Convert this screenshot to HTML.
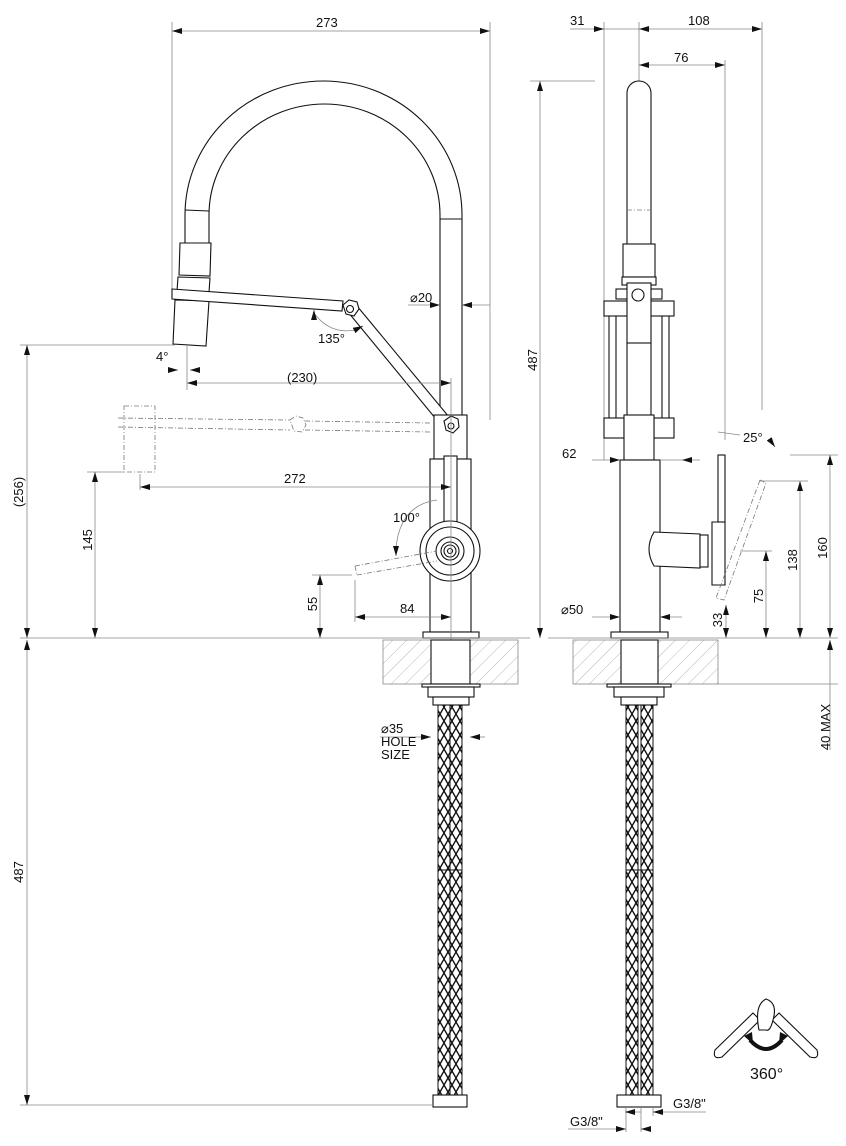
<!DOCTYPE html>
<html><head><meta charset="utf-8"><style>
html,body{margin:0;padding:0;background:#fff}
svg{display:block}
text{font-family:"Liberation Sans",sans-serif;font-size:13px;fill:#111}
.d{stroke:#888;stroke-width:0.8;fill:none}
.k{stroke:#111;stroke-width:1.1;fill:#fff}
.kn{stroke:#111;stroke-width:1.1;fill:none}
.g{stroke:#777;stroke-width:0.8;fill:none;stroke-dasharray:5 2 1 2}
</style></head><body>
<svg width="846" height="1146" viewBox="0 0 846 1146" xmlns="http://www.w3.org/2000/svg">
<defs>
<marker id="a" viewBox="0 0 10 6" refX="10" refY="3" markerWidth="10" markerHeight="6" orient="auto-start-reverse" markerUnits="userSpaceOnUse"><path d="M0,0L10,3L0,6z" fill="#111"/></marker>
<pattern id="h" width="10" height="10" patternUnits="userSpaceOnUse" patternTransform="rotate(45)"><line x1="0" y1="0" x2="0" y2="10" stroke="#999" stroke-width="0.7"/></pattern>
<pattern id="br" width="8" height="14" patternUnits="userSpaceOnUse"><path d="M0,0L8,14M8,0L0,14" stroke="#111" stroke-width="1.4"/></pattern>
</defs>

<!-- ============ LEFT VIEW ============ -->
<line class="d" x1="172" y1="22" x2="172" y2="290"/><line class="d" x1="490" y1="22" x2="490" y2="420"/>
<line class="d" x1="172" y1="31" x2="490" y2="31" marker-start="url(#a)" marker-end="url(#a)"/>
<text x="316" y="27">273</text>
<path class="kn" d="M185,245 L185,215 A138.5,134 0 0 1 462,215 L462,415"/>
<path class="kn" d="M209,245 L209,215 A115.5,111 0 0 1 440,215 L440,415"/>
<line class="kn" x1="185" y1="210" x2="209" y2="211"/><line class="kn" x1="440" y1="219" x2="462" y2="219"/>
<path class="k" d="M180,243 L211,243 L210,276 L179,275 Z"/>
<path class="k" d="M178,277 L210,278 L209,292 L177,291 Z"/>
<path class="k" d="M175,300 L209,301 L206,346 L173,344 Z"/>
<path class="k" d="M172,289 L343,301 L342,311 L172,299 Z"/>
<path class="k" d="M348,312 L357,306 L454,423 L445,430 Z"/>
<polygon class="k" points="343,305 349,300 357,302 359,309 354,316 346,314"/>
<circle class="kn" cx="350" cy="309" r="3.5"/>
<rect class="g" x="124" y="406" width="31" height="66"/>
<path class="g" d="M118,418 L290,420 M118,427 L290,430 M305,421 L430,423 M305,430 L430,432"/>
<polygon class="g" points="290,420 296,416 303,418 306,425 302,432 294,431"/>
<rect class="k" x="434" y="415" width="33" height="44"/>
<rect class="k" x="430" y="459" width="41" height="173"/>
<polygon class="k" points="444,421 451,416 458,419 459,427 453,433 446,430"/>
<circle class="kn" cx="451" cy="426" r="3"/>
<rect class="k" x="444" y="456" width="13" height="92"/>
<circle class="k" cx="450" cy="551" r="30"/><circle class="kn" cx="450" cy="551" r="24"/>
<circle class="kn" cx="450" cy="551" r="14"/><circle class="kn" cx="450" cy="551" r="9"/><circle class="kn" cx="450" cy="551" r="6"/><circle class="kn" cx="450" cy="551" r="2.5"/>
<path class="g" d="M355,566 L437,551 M357,575 L437,561 M355,566 L357,575"/>
<rect class="k" x="423" y="632" width="56" height="6"/>
<line class="d" x1="20" y1="638" x2="530" y2="638"/>
<line class="d" x1="20" y1="345" x2="175" y2="345"/>
<line class="d" x1="27" y1="345" x2="27" y2="638" marker-start="url(#a)" marker-end="url(#a)"/>
<text transform="translate(23,492) rotate(-90)" text-anchor="middle">(256)</text>
<line class="d" x1="87" y1="472" x2="124" y2="472"/>
<line class="d" x1="95" y1="472" x2="95" y2="638" marker-start="url(#a)" marker-end="url(#a)"/>
<text transform="translate(92,540) rotate(-90)" text-anchor="middle">145</text>
<line class="d" x1="140" y1="474" x2="140" y2="490"/>
<line class="d" x1="140" y1="487" x2="451" y2="487" marker-start="url(#a)" marker-end="url(#a)"/>
<text x="284" y="483">272</text>
<line class="d" x1="187" y1="346" x2="187" y2="390"/>
<line class="d" x1="187" y1="383" x2="451" y2="383" marker-start="url(#a)" marker-end="url(#a)"/>
<line class="d" x1="451" y1="378" x2="451" y2="640"/>
<text x="287" y="382">(230)</text>
<line class="d" x1="170" y1="370" x2="178" y2="370" marker-end="url(#a)"/>
<line class="d" x1="200" y1="370" x2="190" y2="370" marker-end="url(#a)"/>
<text x="156" y="361">4°</text>
<path class="d" d="M313,312 Q330,335 355,330"/>
<line class="d" x1="314" y1="318" x2="314" y2="310" marker-end="url(#a)"/>
<line class="d" x1="355" y1="330" x2="363" y2="326" marker-end="url(#a)"/>
<text x="318" y="343">135°</text>
<line class="d" x1="408" y1="305" x2="440" y2="305" marker-end="url(#a)"/>
<line class="d" x1="490" y1="305" x2="462" y2="305" marker-end="url(#a)"/>
<text x="410" y="302">⌀20</text>
<path class="d" d="M396,548 Q400,505 437,500"/>
<line class="d" x1="396" y1="548" x2="396" y2="556" marker-end="url(#a)"/>
<text x="393" y="522">100°</text>
<line class="d" x1="312" y1="575" x2="352" y2="575"/>
<line class="d" x1="320" y1="575" x2="320" y2="638" marker-start="url(#a)" marker-end="url(#a)"/>
<text transform="translate(317,604) rotate(-90)" text-anchor="middle">55</text>
<line class="d" x1="355" y1="580" x2="355" y2="622"/>
<line class="d" x1="355" y1="617" x2="451" y2="617" marker-start="url(#a)" marker-end="url(#a)"/>
<text x="400" y="613">84</text>
<rect x="383" y="640" width="135" height="44" fill="url(#h)" stroke="#888" stroke-width="0.8"/>
<rect class="k" x="431" y="640" width="39" height="44"/>
<rect class="k" x="422" y="684" width="58" height="3"/>
<rect class="k" x="428" y="687" width="46" height="10"/>
<rect class="k" x="433" y="697" width="36" height="8"/>
<rect x="438" y="705" width="12" height="390" fill="url(#br)" stroke="#111"/>
<rect x="450" y="705" width="12" height="390" fill="url(#br)" stroke="#111"/>
<line class="kn" x1="438" y1="870" x2="462" y2="870"/>
<rect class="k" x="433" y="1095" width="34" height="12"/>
<line class="d" x1="380" y1="737" x2="431" y2="737" marker-end="url(#a)"/>
<line class="d" x1="485" y1="737" x2="470" y2="737" marker-end="url(#a)"/>
<text x="381" y="733">⌀35</text><text x="381" y="746">HOLE</text><text x="381" y="759">SIZE</text>
<line class="d" x1="20" y1="1105" x2="433" y2="1105"/>
<line class="d" x1="27" y1="640" x2="27" y2="1105" marker-start="url(#a)" marker-end="url(#a)"/>
<text transform="translate(23,872) rotate(-90)" text-anchor="middle">487</text>

<!-- ============ RIGHT VIEW ============ -->
<line class="d" x1="604" y1="22" x2="604" y2="460"/><line class="d" x1="639" y1="22" x2="639" y2="81"/>
<line class="d" x1="725" y1="60" x2="725" y2="440"/><line class="d" x1="762" y1="22" x2="762" y2="410"/>
<line class="d" x1="570" y1="29" x2="604" y2="29" marker-end="url(#a)"/>
<line class="d" x1="604" y1="29" x2="639" y2="29"/>
<line class="d" x1="639" y1="29" x2="762" y2="29" marker-start="url(#a)" marker-end="url(#a)"/>
<text x="570" y="25">31</text><text x="688" y="25">108</text>
<line class="d" x1="639" y1="65" x2="725" y2="65" marker-start="url(#a)" marker-end="url(#a)"/>
<text x="674" y="62">76</text>
<line class="d" x1="530" y1="81" x2="595" y2="81"/>
<line class="d" x1="540" y1="81" x2="540" y2="638" marker-start="url(#a)" marker-end="url(#a)"/>
<text transform="translate(537,360) rotate(-90)" text-anchor="middle">487</text>
<path class="kn" d="M627,244 L627,93 A12,12 0 0 1 651,93 L651,244"/>
<line class="g" x1="627" y1="210" x2="651" y2="210"/>
<rect class="k" x="623" y="244" width="32" height="33"/>
<rect class="k" x="622" y="277" width="34" height="8"/>
<rect class="k" x="616" y="289" width="46" height="10"/>
<rect class="k" x="604" y="301" width="70" height="15"/>
<rect class="k" x="627" y="283" width="24" height="60"/>
<circle class="k" cx="638" cy="295" r="6"/>
<path class="kn" d="M609,316 V418 M616,316 V418 M662,316 V418 M669,316 V418 M627,343 V417 M651,343 V417"/>
<rect class="k" x="604" y="418" width="20" height="20"/><rect class="k" x="654" y="418" width="20" height="20"/>
<rect class="k" x="624" y="415" width="30" height="45"/>
<rect class="k" x="620" y="460" width="40" height="172"/>
<path class="k" d="M654,532 L700,534 L700,568 L654,566 Q644,549 654,532 Z"/>
<rect class="k" x="700" y="535" width="8" height="32"/>
<path class="k" d="M712,522 L725,522 L725,585 L712,585 Z"/>
<rect class="k" x="718" y="455" width="7" height="67"/>
<path class="g" d="M760,480 L766,483 L724,600 L716,598 Z"/>
<rect class="k" x="611" y="632" width="57" height="6"/>
<line class="d" x1="592" y1="460" x2="620" y2="460" marker-end="url(#a)"/>
<line class="d" x1="700" y1="460" x2="682" y2="460" marker-end="url(#a)"/>
<line class="d" x1="660" y1="460" x2="682" y2="460"/>
<text x="562" y="458">62</text>
<line class="d" x1="592" y1="617" x2="620" y2="617" marker-end="url(#a)"/>
<line class="d" x1="682" y1="617" x2="660" y2="617" marker-end="url(#a)"/>
<text x="561" y="614">⌀50</text>
<line class="d" x1="718" y1="432" x2="740" y2="435"/>
<text x="743" y="442">25°</text>
<line class="d" x1="770" y1="440" x2="775" y2="447" marker-end="url(#a)"/>
<line class="d" x1="790" y1="455" x2="838" y2="455"/>
<line class="d" x1="830" y1="455" x2="830" y2="638" marker-start="url(#a)" marker-end="url(#a)"/>
<text transform="translate(827,548) rotate(-90)" text-anchor="middle">160</text>
<line class="d" x1="760" y1="481" x2="808" y2="481"/>
<line class="d" x1="800" y1="481" x2="800" y2="638" marker-start="url(#a)" marker-end="url(#a)"/>
<text transform="translate(797,560) rotate(-90)" text-anchor="middle">138</text>
<line class="d" x1="740" y1="551" x2="772" y2="551"/>
<line class="d" x1="766" y1="551" x2="766" y2="638" marker-start="url(#a)" marker-end="url(#a)"/>
<text transform="translate(763,596) rotate(-90)" text-anchor="middle">75</text>
<line class="d" x1="726" y1="605" x2="726" y2="638" marker-start="url(#a)" marker-end="url(#a)"/>
<text transform="translate(722,620) rotate(-90)" text-anchor="middle">33</text>
<line class="d" x1="548" y1="638" x2="838" y2="638"/>
<rect x="573" y="640" width="145" height="44" fill="url(#h)" stroke="#888" stroke-width="0.8"/>
<rect class="k" x="621" y="640" width="37" height="44"/>
<rect class="k" x="607" y="684" width="64" height="3"/>
<rect class="k" x="614" y="687" width="50" height="10"/>
<rect class="k" x="621" y="697" width="36" height="8"/>
<rect x="626" y="705" width="12" height="390" fill="url(#br)" stroke="#111"/>
<rect x="641" y="705" width="12" height="390" fill="url(#br)" stroke="#111"/>
<line class="kn" x1="626" y1="870" x2="653" y2="870"/>
<rect class="k" x="617" y="1095" width="44" height="12"/>
<line class="d" x1="718" y1="684" x2="838" y2="684"/>
<line class="d" x1="830" y1="640" x2="830" y2="684" marker-start="url(#a)"/>
<line class="d" x1="830" y1="684" x2="830" y2="750"/>
<text transform="translate(830,727) rotate(-90)" text-anchor="middle">40 MAX</text>
<line class="d" x1="626" y1="1108" x2="626" y2="1132"/><line class="d" x1="641" y1="1108" x2="641" y2="1132"/><line class="d" x1="653" y1="1108" x2="653" y2="1116"/>
<line class="d" x1="625" y1="1112" x2="641" y2="1112" marker-start="url(#a)"/>
<line class="d" x1="662" y1="1112" x2="706" y2="1112"/><line class="d" x1="662" y1="1112" x2="653" y2="1112" marker-end="url(#a)"/>
<text x="673" y="1108">G3/8"</text>
<line class="d" x1="568" y1="1129" x2="626" y2="1129" marker-end="url(#a)"/>
<line class="d" x1="650" y1="1129" x2="641" y2="1129" marker-end="url(#a)"/>
<text x="570" y="1126">G3/8"</text>
<path class="k" d="M715,1050 L753,1013 L760,1020 L722,1057 Q712,1060 715,1050 Z"/>
<path class="k" d="M817,1050 L779,1013 L772,1020 L810,1057 Q820,1060 817,1050 Z"/>
<path class="k" d="M759,1030 Q754,1005 766,999 Q778,1003 773,1020 Q770,1032 766,1030 Z"/>
<path d="M750,1040 Q766,1058 782,1040" stroke="#111" stroke-width="4" fill="none"/>
<path d="M744,1036 L752,1032 L753,1044 Z" fill="#111"/><path d="M788,1036 L780,1032 L779,1044 Z" fill="#111"/>
<text x="750" y="1079" style="font-size:16px">360°</text>
</svg>
</body></html>
